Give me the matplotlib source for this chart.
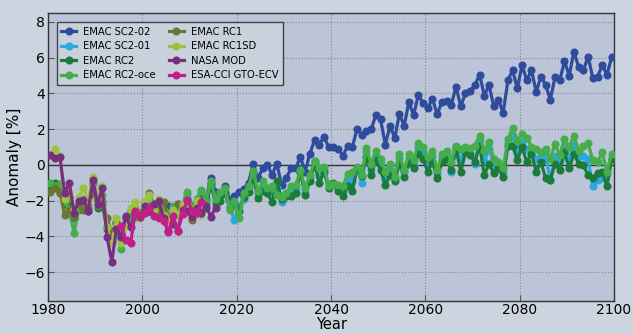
import numpy as np
import matplotlib
matplotlib.use("Agg")
import matplotlib.pyplot as plt

# annual anomalies [%], plotted at mid-year
years_full = np.arange(1980, 2100)
years_sc2 = np.arange(2000, 2100)

sc2_02 = [
    -2.5, -2.2, -2.6, -2.4, -2.8, -2.3, -2.6, -2.2, -2.7, -2.0,
    -2.3, -2.1, -1.76, -1.9, -0.75, -1.5, -1.6, -1.2, -2.0, -1.76,
    -1.5, -1.35, -1.0, 0.07, -0.75, -0.2, 0.0, -0.56, 0.07, -1.12,
    -0.75, -0.2, -0.2, 0.44, -0.38, 0.62, 1.39, 1.13, 1.57, 0.99,
    0.99, 0.9, 0.5, 1.05, 0.99, 1.99, 1.68, 1.9, 1.99, 2.78,
    2.55, 1.13, 2.18, 1.5, 2.86, 2.18, 3.52, 2.78, 3.92, 3.46,
    3.19, 3.7, 2.82, 3.52, 3.55, 3.37, 4.37, 3.28, 4.0, 4.14,
    4.46, 5.05, 3.88, 4.46, 3.28, 3.64, 2.91, 4.74, 5.29, 4.28,
    5.57, 4.74, 5.29, 4.1, 4.93, 4.47, 3.64, 4.93, 4.74, 5.8,
    5.0, 6.33, 5.48, 5.29, 6.06, 4.87, 4.93, 5.57, 5.05, 6.02,
]

sc2_01 = [
    -2.4, -2.5, -2.3, -2.8, -2.6, -2.9, -2.4, -2.7, -2.3, -1.7,
    -2.6, -2.0, -1.6, -2.2, -1.1, -2.0, -1.7, -1.5, -2.3, -3.1,
    -2.3, -1.9, -1.3, -0.5, -1.6, -1.1, -1.4, -1.5, -1.3, -2.1,
    -1.6, -1.4, -1.3, -0.4, -1.5, -0.7, 0.2, -0.6, -0.3, -1.1,
    -1.1, -1.3, -1.5, -0.8, -0.9, -0.2, -1.0, 0.7, -0.3, 0.5,
    0.1, -0.8, -0.2, -0.8, 0.4, -0.4, 0.4, 0.0, 1.0, 0.7,
    0.1, 0.5, -0.5, 0.4, 0.6, -0.4, 1.0, 0.3, 0.8, 0.7,
    0.07, 1.4, 0.2, 0.9, 0.0, 0.0, -0.4, 1.2, 1.6, 0.8,
    1.3, 0.9, 0.8, 0.3, 0.6, 0.5, -0.84, 0.5, 0.2, 1.0,
    0.4, 1.1, 0.5, 0.5, 0.3, -1.21, -0.84, -0.75, -0.5, 0.4,
]

rc2 = [
    -1.2, -1.0, -1.6, -2.2, -1.8, -3.0, -2.4, -2.0, -2.6, -1.1,
    -2.4, -2.2, -3.6, -3.9, -3.2, -4.0, -3.0, -2.9, -2.5, -2.7,
    -2.2, -2.6, -2.4, -2.9, -2.7, -3.0, -2.5, -2.6, -2.4, -1.9,
    -2.3, -2.1, -1.9, -2.4, -1.0, -2.2, -2.0, -1.6, -2.4, -2.2,
    -2.6, -1.8, -1.5, -0.66, -1.84, -1.48, -1.6, -2.1, -0.93, -1.9,
    -1.75, -1.72, -1.57, -0.38, -1.66, -0.93, 0.07, -1.02, -0.38, -1.3,
    -1.02, -1.48, -1.75, -1.21, -1.48, -0.2, -0.6, 0.44, -0.57, 0.26,
    -0.3, -1.12, -0.57, -0.93, 0.08, -0.66, 0.08, -0.2, 0.62, 0.35,
    -0.38, 0.17, -0.75, 0.17, 0.35, -0.3, 0.9, -0.39, 0.71, 0.53,
    0.17, 1.08, -0.57, 0.07, -0.48, -0.2, -0.66, 1.08, 1.08, 0.26,
    0.99, 0.17, 0.62, -0.39, 0.15, -0.75, -0.84, 0.07, -0.3, 0.71,
    -0.2, 0.62, 0.07, -0.02, -0.57, -0.75, -0.44, -0.39, -1.21, 0.35,
]

rc2_oce = [
    -1.0, -1.2, -1.1, -2.0, -2.6, -3.8, -2.5, -1.9, -2.2, -1.0,
    -2.0, -1.7, -3.4, -4.3, -3.6, -4.7, -3.3, -3.0, -2.4, -2.9,
    -2.1, -2.4, -2.2, -2.7, -2.5, -3.0, -2.3, -2.8, -2.2, -1.5,
    -2.4, -1.9, -1.4, -2.0, -0.9, -1.9, -1.5, -1.3, -2.5, -2.0,
    -3.0, -1.6, -1.2, -0.33, -1.48, -0.93, -1.3, -1.2, -1.66, -1.8,
    -1.57, -1.2, -1.12, -0.3, -1.3, -0.57, 0.22, -0.2, -0.11, -1.2,
    -1.06, -1.12, -1.2, -0.5, -0.38, -0.11, -0.57, 0.95, 0.04, 0.8,
    0.35, -0.38, 0.04, -0.66, 0.62, -0.3, 0.62, 0.26, 1.2, 0.99,
    0.44, 0.8, -0.3, 0.6, 0.8, 0.17, 1.08, 0.9, 0.99, 0.95,
    1.08, 1.63, 0.8, 1.26, 0.35, 0.17, -0.2, 1.44, 2.09, 1.35,
    1.72, 1.53, 1.0, 0.9, 0.7, 0.9, 0.35, 1.17, 0.53, 1.44,
    0.99, 1.63, 0.8, 1.08, 1.2, 0.26, 0.17, 0.71, -0.39, 0.62,
]

years_rc1 = np.arange(1980, 2012)
rc1 = [
    -1.5, -1.3, -1.5, -2.8, -2.5, -2.9, -2.2, -2.5, -2.4, -1.5,
    -2.3, -2.0, -3.0, -3.8, -3.3, -3.6, -3.0, -2.6, -2.9, -2.7,
    -2.5, -1.6, -2.3, -2.5, -2.1, -3.0, -2.5, -2.2, -2.7, -2.3,
    -3.1, -2.2,
]

years_rc1sd = np.arange(1980, 2013)
rc1sd = [
    0.55, 0.9, 0.5, -1.9, -1.5, -2.5, -1.8, -1.3, -2.0, -0.7,
    -1.8, -1.2, -3.5, -4.4, -3.0, -4.4, -3.4, -2.4, -2.1, -3.0,
    -2.0, -1.7, -2.5, -1.9, -2.8, -3.1, -2.5, -2.8, -2.2, -2.4,
    -2.9, -2.0, -2.8,
]

years_nasa = np.arange(1980, 2016)
nasa_mod = [
    0.53, 0.38, 0.44, -1.58, -1.03, -2.67, -2.03, -1.94, -2.58, -0.84,
    -2.2, -1.3, -4.05, -5.42, -3.59, -4.05, -2.86, -3.5, -2.7, -2.9,
    -2.3, -2.6, -2.2, -2.0, -3.0, -3.7, -3.3, -3.68, -2.5, -2.6,
    -2.9, -2.4, -2.7, -2.3, -2.9, -2.4,
]

years_esa = np.arange(1995, 2013)
esa_cci = [
    -3.4, -4.2, -4.4, -2.58, -2.86, -2.67, -2.4, -2.86, -2.95, -3.13,
    -3.77, -2.86, -3.68, -2.77, -1.94, -2.58, -2.67, -2.1,
]

series = [
    ("EMAC SC2-02", years_sc2, sc2_02, "#2f4b9c"),
    ("EMAC SC2-01", years_sc2, sc2_01, "#2aa9e0"),
    ("EMAC RC2", years_full, rc2, "#1b7b3b"),
    ("EMAC RC2-oce", years_full, rc2_oce, "#45ae4a"),
    ("EMAC RC1", years_rc1, rc1, "#6b7534"),
    ("EMAC RC1SD", years_rc1sd, rc1sd, "#9fc140"),
    ("NASA MOD", years_nasa, nasa_mod, "#772f80"),
    ("ESA-CCI GTO-ECV", years_esa, esa_cci, "#c21f88"),
]

fig = plt.figure(figsize=(6.33, 3.34), dpi=100, facecolor="#ccd5df")
ax = fig.add_axes([0.076, 0.1, 0.894, 0.861])
ax.set_facecolor("#bcc4d8")

for label, yrs, vals, color in series:
    ax.plot(yrs + 0.5, vals, "-o", color=color, lw=2.3, ms=4.8,
            mec=color, label=label, zorder=3)

ax.axhline(0, color="#333333", lw=1.0, zorder=2)
ax.grid(True, ls=":", color="#888888", lw=0.8, zorder=0)

ax.set_xlim(1980, 2100)
ax.set_ylim(-7.6, 8.5)
ax.set_xticks(np.arange(1980, 2101, 20))
ax.set_yticks(np.arange(-6, 9, 2))
ax.tick_params(labelsize=10, direction="in", color="#555555", length=4, pad=2)
for s in ax.spines.values():
    s.set_color("#333333")
    s.set_linewidth(1.0)

ax.set_xlabel("Year", fontsize=10.5, labelpad=0)
ax.set_ylabel("Anomaly [%]", fontsize=11, labelpad=2)

leg = ax.legend(loc="upper left", ncol=2, fontsize=7.2, frameon=True,
                fancybox=False, handlelength=1.5, handletextpad=0.7,
                columnspacing=1.3, labelspacing=0.45, borderpad=0.45,
                bbox_to_anchor=(0.006, 0.985))
leg.get_frame().set_facecolor("#c9d1dd")
leg.get_frame().set_edgecolor("#444444")
leg.get_frame().set_alpha(1.0)

fig.savefig("out.png", dpi=100, facecolor=fig.get_facecolor())
